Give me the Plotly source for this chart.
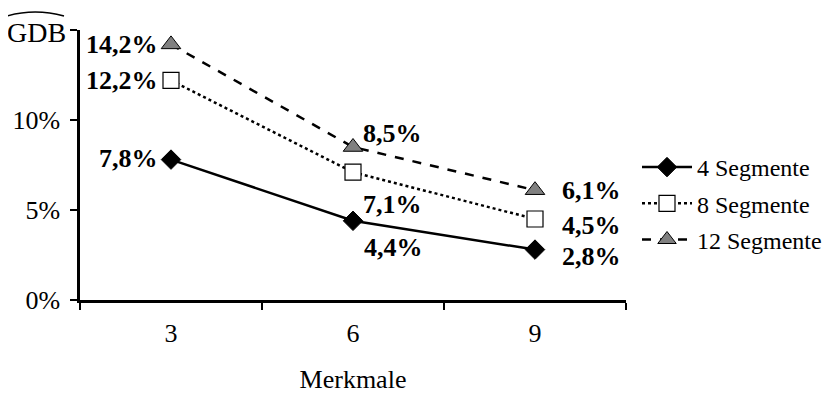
import plotly.graph_objects as go

categories = ["3", "6", "9"]
seg4 = [7.8, 4.4, 2.8]
seg8 = [12.2, 7.1, 4.5]
seg12 = [14.2, 8.5, 6.1]
series_names = ["4 Segmente", "8 Segmente", "12 Segmente"]
y_tickvals = [0, 5, 10, 15]
y_ticktext = ["0%", "5%", "10%", ""]

FONT = "Liberation Serif"

# page body has an 8px offset; plot area in window pixels: x 80..626, y 30..300
OFF = 8
PL, PR, PT, PB = 80, 626, 30, 300
W, H = 833 - OFF, 396 - OFF

fig = go.Figure()
fig.add_trace(go.Scatter(
    x=categories, y=seg4, name=series_names[0], mode="lines+markers",
    line=dict(color="black", width=2.5, dash="solid"),
    marker=dict(symbol="diamond", size=15, color="black", line=dict(color="black", width=1)),
    legendgroup="a", cliponaxis=False))
fig.add_trace(go.Scatter(
    x=categories, y=seg8, name=series_names[1], mode="lines+markers",
    line=dict(color="black", width=2.5, dash="dot"),
    marker=dict(symbol="square", size=16, color="white", line=dict(color="black", width=1.2)),
    legendgroup="b", cliponaxis=False))
fig.add_trace(go.Scatter(
    x=categories, y=seg12, name=series_names[2], mode="lines+markers",
    line=dict(color="black", width=2.5, dash="dash"),
    marker=dict(symbol="triangle-up", size=17, color="#808080", line=dict(color="black", width=1)),
    legendgroup="c", cliponaxis=False))

def fmt(v):
    return f"{v:.1f}".replace(".", ",") + "%"

annotations = []
# (series, index) -> (xanchor, xshift, yshift)
placements = {
    ("s4", 0): ("right", -11, 1),
    ("s4", 1): ("center", 40, -27),
    ("s4", 2): ("left", 25, -7),
    ("s8", 0): ("right", -11, 0),
    ("s8", 1): ("center", 39, -32),
    ("s8", 2): ("left", 25, -6),
    ("s12", 0): ("right", -11, 0),
    ("s12", 1): ("center", 39, 14),
    ("s12", 2): ("left", 25, 0),
}
for key, vals in (("s4", seg4), ("s8", seg8), ("s12", seg12)):
    for i, v in enumerate(vals):
        xa, xs, ys = placements[(key, i)]
        annotations.append(dict(
            x=i, y=v, xref="x", yref="y", text="<b>" + fmt(v) + "</b>",
            showarrow=False, xanchor=xa, yanchor="middle", xshift=xs, yshift=ys,
            font=dict(family=FONT, size=26, color="black")))

def px_to_paper_x(px):
    return (px - PL) / float(PR - PL)

def px_to_paper_y(py):
    return (PB - py) / float(PB - PT)

# GDB (with hat) as the top y-axis label
annotations.append(dict(
    x=px_to_paper_x(36), y=px_to_paper_y(32), xref="paper", yref="paper", text="GDB",
    showarrow=False, xanchor="center", yanchor="middle",
    font=dict(family=FONT, size=28, color="black")))

hat_path = "M {:.4f},{:.4f} Q {:.4f},{:.4f} {:.4f},{:.4f}".format(
    px_to_paper_x(7), px_to_paper_y(16),
    px_to_paper_x(35), px_to_paper_y(8),
    px_to_paper_x(64), px_to_paper_y(16))

fig.update_layout(
    width=W, height=H,
    margin=dict(l=PL - OFF, r=W - (PR - OFF), t=PT - OFF, b=H - (PB - OFF), autoexpand=False),
    paper_bgcolor="white", plot_bgcolor="white",
    font=dict(family=FONT, size=26, color="black"),
    showlegend=True,
    legend=dict(
        x=px_to_paper_x(637), y=px_to_paper_y(145), xanchor="left", yanchor="top",
        font=dict(family=FONT, size=24, color="black"),
        itemwidth=50, tracegroupgap=2, bgcolor="rgba(0,0,0,0)"),
    annotations=annotations,
    shapes=[dict(type="path", xref="paper", yref="paper", path=hat_path,
                 line=dict(color="black", width=1.5))],
)
fig.update_xaxes(
    type="category", range=[-0.5, 2.5], tickson="boundaries", automargin=False,
    showline=True, linecolor="black", linewidth=2.5,
    ticks="outside", ticklen=7, tickwidth=2, tickcolor="black",
    showgrid=False, zeroline=False, ticklabelstandoff=8,
    tickfont=dict(family=FONT, size=26, color="black"),
    title=dict(text="Merkmale", font=dict(family=FONT, size=26, color="black"), standoff=23))
fig.update_yaxes(
    range=[0, 15], tickvals=y_tickvals, ticktext=y_ticktext, automargin=False,
    showline=True, linecolor="black", linewidth=2.5,
    ticks="outside", ticklen=7, tickwidth=2, tickcolor="black",
    showgrid=False, zeroline=False, ticklabelstandoff=5,
    tickfont=dict(family=FONT, size=26, color="black"))

fig.write_html("out.html")
